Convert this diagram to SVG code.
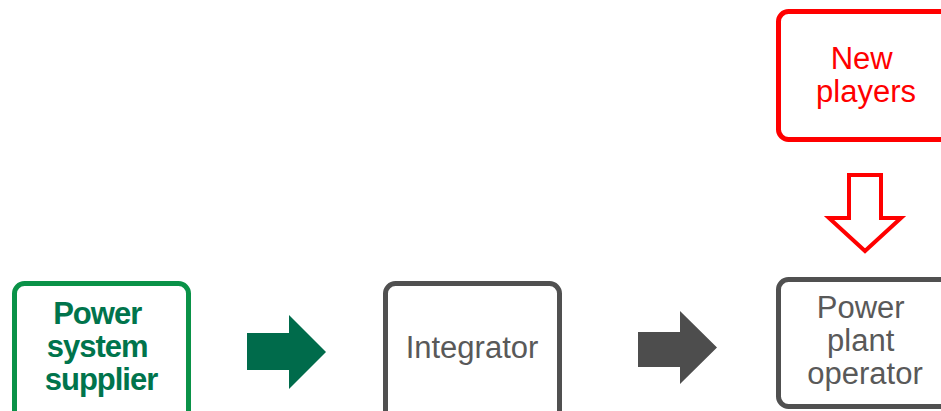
<svg xmlns="http://www.w3.org/2000/svg" width="941" height="411" viewBox="0 0 941 411">
  <style>
    .box { fill: #ffffff; stroke-width: 5; }
    .grey { stroke: #505050; }
    .label { font-family: "Liberation Sans", Arial, sans-serif; font-size: 31px; text-anchor: middle; }
  </style>
  <rect width="941" height="411" fill="#ffffff"/>

  <g id="power-system-supplier">
    <rect class="box" x="14.5" y="283.5" width="174" height="140" rx="10" stroke="#0a9248"/>
    <text class="label" x="101" font-weight="bold" fill="#00744c" font-size="31" letter-spacing="-1">
      <tspan x="101" y="324">Power</tspan>
      <tspan x="101" y="357">system</tspan>
      <tspan x="101" y="390">supplier</tspan>
    </text>
  </g>

  <g id="integrator">
    <rect class="box grey" x="385.5" y="283.5" width="174" height="140" rx="10"/>
    <text class="label" x="472" y="358" fill="#595959">Integrator</text>
  </g>

  <g id="new-players">
    <rect class="box" x="778.5" y="11.5" width="180" height="128" rx="10" stroke="#ff0000"/>
    <text class="label" fill="#ff0000">
      <tspan x="866" y="69">New</tspan>
      <tspan x="866" y="101.5">players</tspan>
    </text>
  </g>

  <g id="power-plant-operator">
    <rect class="box grey" x="778.5" y="279.5" width="180" height="127" rx="10"/>
    <text class="label" fill="#595959">
      <tspan x="865" y="318">Power</tspan>
      <tspan x="865" y="351">plant</tspan>
      <tspan x="865" y="384">operator</tspan>
    </text>
  </g>

  <g id="connectors">
    <polygon points="247,333 289,333 289,315 326,352 289,389 289,370 247,370" fill="#006b4b"/>
    <polygon points="638,332 680,332 680,311 717,347.5 680,384 680,367 638,367" fill="#4d4d4d"/>
    <polygon points="849,175 881,175 881,218 901,218 865,251 829,218 849,218" fill="#ffffff" stroke="#ff0000" stroke-width="4" stroke-linejoin="miter"/>
  </g>
</svg>
